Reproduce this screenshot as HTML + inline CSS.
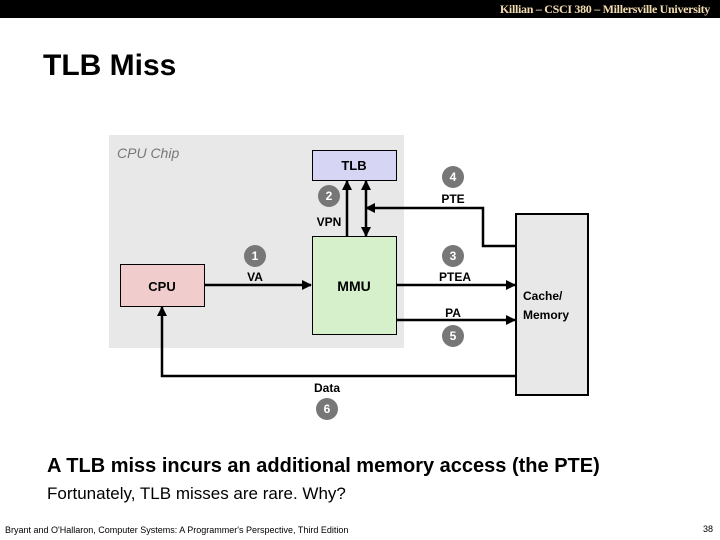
<!DOCTYPE html>
<html><head><meta charset="utf-8"><style>
body{margin:0;width:720px;height:540px;background:#fff;position:relative;overflow:hidden;font-family:"Liberation Sans",sans-serif}
.t{position:absolute;white-space:nowrap}
</style></head><body>
<div style="position:absolute;left:0;top:0;width:720px;height:18px;background:#000"></div>
<div class="t" style="right:10px;top:2px;font-family:'Liberation Serif',serif;font-weight:bold;font-size:12px;color:#f3ddb0;letter-spacing:-0.3px">Killian – CSCI 380 – Millersville University</div>
<div class="t" style="left:43px;top:49px;font-size:30px;font-weight:bold">TLB Miss</div>
<svg width="720" height="540" style="position:absolute;left:0;top:0" font-family="Liberation Sans, sans-serif">
<defs><marker id="a" markerWidth="10" markerHeight="10" refX="9" refY="5" orient="auto-start-reverse" markerUnits="userSpaceOnUse" viewBox="0 0 10 10"><path d="M0,0L10,5L0,10z" fill="#000"/></marker></defs>
<rect x="109" y="135" width="295" height="213" fill="#e8e8e8"/>
<text x="117" y="158" font-size="14" font-style="italic" fill="#777">CPU Chip</text>
<rect x="312.5" y="150.5" width="84" height="30" fill="#d6d6f4" stroke="#000"/>
<text x="354" y="170" font-size="13" font-weight="bold" text-anchor="middle">TLB</text>
<rect x="312.5" y="236.5" width="84" height="98" fill="#d6f0cc" stroke="#000"/>
<text x="354" y="291" font-size="14" font-weight="bold" text-anchor="middle">MMU</text>
<rect x="120.5" y="264.5" width="84" height="42" fill="#f0cccc" stroke="#000"/>
<text x="162" y="291" font-size="13" font-weight="bold" text-anchor="middle">CPU</text>
<rect x="516" y="214" width="72" height="181" fill="#e8e8e8" stroke="#000" stroke-width="2"/>
<text x="523" y="300" font-size="12" font-weight="bold">Cache/</text>
<text x="523" y="319" font-size="12" font-weight="bold">Memory</text>
<g stroke="#000" stroke-width="2.5" fill="none">
<line x1="204" y1="285" x2="311" y2="285" marker-end="url(#a)"/>
<line x1="347" y1="236" x2="347" y2="181" marker-end="url(#a)"/>
<line x1="366" y1="181" x2="366" y2="236" marker-start="url(#a)" marker-end="url(#a)"/>
<polyline points="515,246 483,246 483,208 366,208" marker-end="url(#a)"/>
<line x1="396" y1="285" x2="515" y2="285" marker-end="url(#a)"/>
<line x1="396" y1="320" x2="515" y2="320" marker-end="url(#a)"/>
<polyline points="515,376 162,376 162,307" marker-end="url(#a)"/>
</g>
<g fill="#777"><circle cx="329" cy="196" r="11"/><circle cx="255" cy="256" r="11"/><circle cx="453" cy="177" r="11"/><circle cx="453" cy="256" r="11"/><circle cx="453" cy="336" r="11"/><circle cx="327" cy="409" r="11"/></g>
<g fill="#fff" font-size="12" font-weight="bold" text-anchor="middle">
<text x="329" y="200">2</text><text x="255" y="260">1</text><text x="453" y="181">4</text><text x="453" y="260">3</text><text x="453" y="340">5</text><text x="327" y="413">6</text></g>
<g font-size="12" font-weight="bold" text-anchor="middle">
<text x="329" y="226">VPN</text><text x="255" y="281">VA</text><text x="453" y="203">PTE</text><text x="455" y="281">PTEA</text><text x="453" y="317">PA</text><text x="327" y="392">Data</text></g>
</svg>
<div class="t" style="left:47px;top:455px;font-size:20px;font-weight:bold">A TLB miss incurs an additional memory access (the PTE)</div>
<div class="t" style="left:47px;top:484px;font-size:17px">Fortunately, TLB misses are rare. Why?</div>
<div class="t" style="left:5px;top:525px;font-size:9px">Bryant and O'Hallaron, Computer Systems: A Programmer's Perspective, Third Edition</div>
<div class="t" style="left:703px;top:524px;font-size:9px">38</div>
</body></html>
